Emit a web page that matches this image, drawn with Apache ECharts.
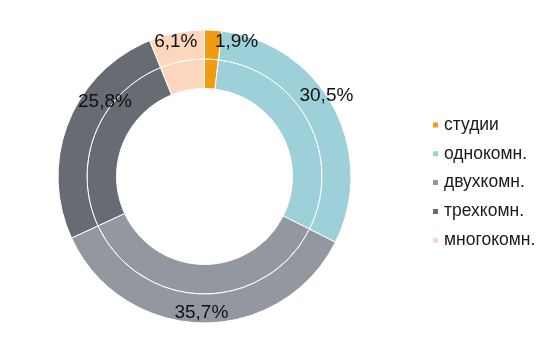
<!DOCTYPE html>
<html>
<head>
  <meta charset="UTF-8">
  <title>Doughnut</title>
  <style>
    html, body { margin: 0; padding: 0; background: #fff; }
    #chart { width: 555px; height: 354px; }
  </style>
  <script src="https://cdn.jsdelivr.net/npm/echarts@6/dist/echarts.min.js"></script>
</head>
<body>
  <div id="chart"></div>
  <script>
    var categories = ['студии', 'однокомн.', 'двухкомн.', 'трехкомн.', 'многокомн.'];
    var shares = [1.9, 30.5, 35.7, 25.8, 6.1];
    var colors = ['#f39b10', '#9dd0d9', '#9398a0', '#676c72', '#fcd6bd'];
    // сдвиг подписей от середины кольца (как в исходной картинке)
    var labelNudge = [[24, 0], [3, -17], [-1, 1], [26, -25], [-3, -2]];

    var chart = echarts.init(document.getElementById('chart'));

    var pieData = categories.map(function (name, i) {
      return { name: name, value: shares[i], itemStyle: { color: colors[i] } };
    });

    var ringBase = {
      type: 'pie',
      center: [204.5, 176.5],
      startAngle: 90,
      clockwise: true,
      avoidLabelOverlap: false,
      silent: true,
      emphasis: { disabled: true },
      itemStyle: { borderColor: '#fff', borderWidth: 1 },
      labelLine: { show: false },
      data: pieData
    };

    var option = {
      animation: false,
      legend: {
        orient: 'vertical',
        left: 426,
        top: 111,
        icon: 'rect',
        itemWidth: 7,
        itemHeight: 7,
        itemGap: 10.8,
        selectedMode: false,
        data: categories,
        textStyle: {
          fontFamily: 'Liberation Sans, Arial, sans-serif',
          fontSize: 17.5,
          lineHeight: 17.5,
          color: '#1a1a1a'
        }
      },
      series: [
        Object.assign({}, ringBase, {
          name: 'inner',
          radius: [88, 117.5],
          label: { show: false }
        }),
        Object.assign({}, ringBase, {
          name: 'outer',
          radius: [117.5, 146.5],
          label: {
            show: true,
            position: 'inside',
            fontFamily: 'Liberation Sans, Arial, sans-serif',
            fontSize: 19,
            color: '#111',
            formatter: function (p) {
              return p.value.toFixed(1).replace('.', ',') + '%';
            }
          },
          labelLayout: function (p) {
            var n = labelNudge[p.dataIndex];
            return { dx: n[0], dy: n[1] };
          }
        })
      ]
    };

    chart.setOption(option);
  </script>
</body>
</html>
